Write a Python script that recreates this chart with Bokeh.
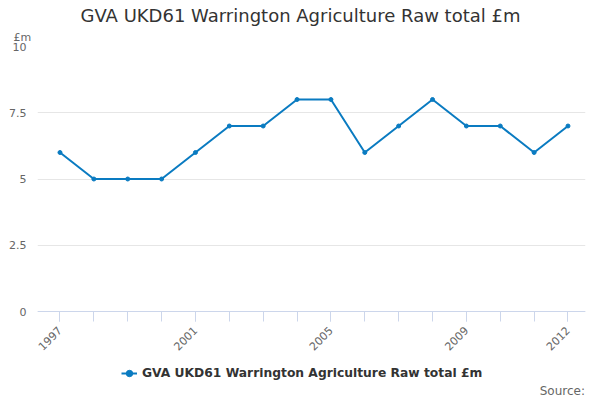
from bokeh.plotting import figure
from bokeh.embed import file_html
from bokeh.resources import INLINE
from bokeh.models import Range1d, FixedTicker, Legend, LegendItem, ColumnDataSource, Title, Label
import math

years = [1997, 1998, 1999, 2000, 2001, 2002, 2003, 2004, 2005, 2006, 2007, 2008, 2009, 2010, 2011, 2012]
values = [6, 5, 5, 5, 6, 7, 7, 8, 8, 6, 7, 8, 7, 7, 6, 7]
label_years = [1997, 2001, 2005, 2009, 2012]
y_ticks = [0, 2.5, 5, 7.5, 10]
series_name = "GVA UKD61 Warrington Agriculture Raw total £m"
title_text = "GVA UKD61 Warrington Agriculture Raw total £m"
unit_text = "£m"
source_text = "Source:"

BLUE = "#0a7bc1"
FONT = "DejaVu Sans"

src = ColumnDataSource(dict(x=years, y=values))

# frame: top at y=10, extends below y=0 to the bottom of the figure
p = figure(width=600, height=400, output_backend="svg", toolbar_location=None,
           x_range=Range1d(1996.336, 2012.517), y_range=Range1d(-3.358, 10),
           title_location=None,
           min_border_left=37, min_border_right=15, min_border_top=46, min_border_bottom=0)

p.outline_line_color = None
p.background_fill_color = "white"
p.border_fill_color = "white"

r = p.line("x", "y", source=src, line_color=BLUE, line_width=2)
c = p.scatter("x", "y", source=src, size=4, fill_color=BLUE, line_color=BLUE)

# x axis fixed at y = 0
p.xaxis.fixed_location = 0
p.xaxis.ticker = FixedTicker(ticks=label_years, minor_ticks=years)
p.xaxis.major_label_orientation = math.pi / 4
p.xaxis.major_label_text_font = FONT
p.xaxis.major_label_text_font_size = "11px"
p.xaxis.major_label_text_color = "#666666"
p.xaxis.axis_line_color = "#ccd6eb"
p.xaxis.major_tick_line_color = "#ccd6eb"
p.xaxis.minor_tick_line_color = "#ccd6eb"
p.xaxis.major_tick_in = 0
p.xaxis.major_tick_out = 10
p.xaxis.minor_tick_in = 0
p.xaxis.minor_tick_out = 10
p.xaxis.major_label_standoff = 7

p.yaxis.ticker = FixedTicker(ticks=y_ticks)
p.yaxis.major_label_text_font = FONT
p.yaxis.major_label_text_font_size = "11px"
p.yaxis.major_label_text_color = "#666666"
p.yaxis.axis_line_color = None
p.yaxis.major_tick_line_color = None
p.yaxis.minor_tick_line_color = None
p.yaxis.major_label_standoff = 5

p.xgrid.grid_line_color = None
p.ygrid.grid_line_color = "#e6e6e6"
p.ygrid.ticker = FixedTicker(ticks=y_ticks)

# titles above (first added is closest to the frame)
unit_title = Title(text=unit_text, align="left", offset=-24, text_font=FONT,
                   text_font_size="11px", text_font_style="normal", text_color="#666666",
                   standoff=6)
p.add_layout(unit_title, "above")
main_title = Title(text=title_text, align="left", offset=43, text_font=FONT,
                   text_font_size="18px", text_font_style="normal", text_color="#333333",
                   standoff=0)
p.add_layout(main_title, "above")

legend = Legend(items=[LegendItem(label=series_name, renderers=[r, c])],
                location=(84, 17), orientation="horizontal",
                border_line_color=None, background_fill_alpha=0,
                label_text_font=FONT, label_text_font_size="12.3px", label_text_font_style="bold",
                label_text_color="#333333", glyph_width=16, label_standoff=5, padding=0, margin=0)
p.add_layout(legend, "center")

p.add_layout(Label(x=547.5, y=10, x_units="screen", y_units="screen", text=source_text,
                   text_align="right", text_baseline="middle", text_font=FONT,
                   text_font_size="12px", text_color="#666666"))

open("out.html", "w").write(file_html(p, INLINE))
